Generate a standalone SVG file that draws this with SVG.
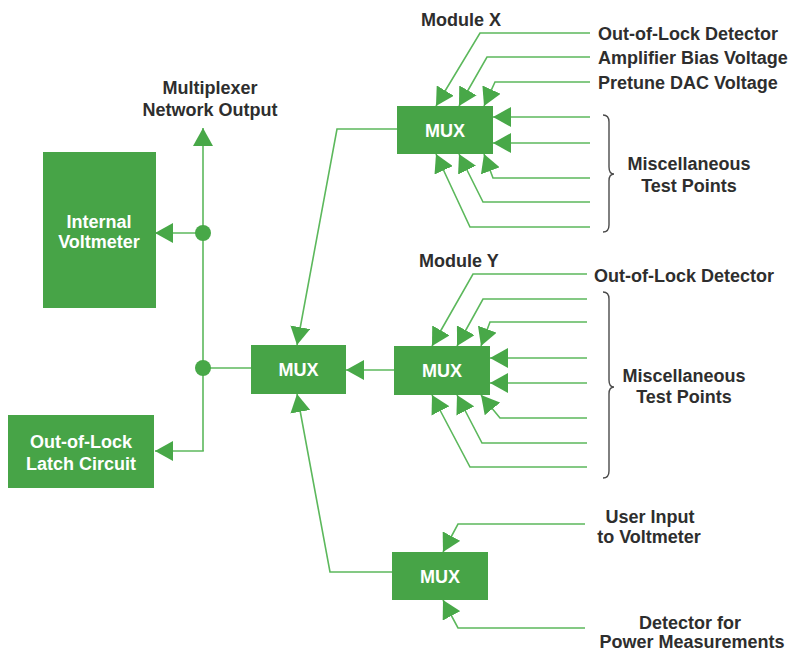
<svg xmlns="http://www.w3.org/2000/svg" width="798" height="652" viewBox="0 0 798 652">
<style>
.box{fill:#47a447}
.bt{fill:#ffffff;font-family:"Liberation Sans",Arial,sans-serif;font-weight:bold;font-size:18px;text-anchor:middle}
.lb{fill:#2e2e2e;font-family:"Liberation Sans",Arial,sans-serif;font-weight:bold;font-size:18px}
.c{text-anchor:middle}
.ln{fill:none;stroke:#5cb85c;stroke-width:1.6;marker-end:url(#ah)}
.pl{fill:none;stroke:#5cb85c;stroke-width:1.6}
.br{fill:none;stroke:#4a4a4a;stroke-width:1.4}
</style>
<defs>
<marker id="ah" viewBox="0 0 18 20" markerWidth="18" markerHeight="20" refX="18" refY="10" orient="auto" markerUnits="userSpaceOnUse">
<path d="M0,0 L18,10 L0,20 z" fill="#48a848"/>
</marker>
</defs>
<rect width="798" height="652" fill="#ffffff"/>

<g id="connectors">
<polyline class="ln" points="397,129 337,129 297,345"/>
<line class="ln" x1="394" y1="370" x2="346" y2="370"/>
<polyline class="ln" points="392,572 330,572 297,394"/>
<line class="pl" x1="251" y1="368" x2="203" y2="368"/>
<line class="ln" x1="203" y1="451" x2="203" y2="128"/>
<line class="ln" x1="203" y1="233" x2="155" y2="233"/>
<line class="ln" x1="203.8" y1="451" x2="155" y2="451"/>
<circle cx="203" cy="233" r="8" fill="#48a848"/>
<circle cx="203" cy="368" r="8" fill="#48a848"/>

<polyline class="ln" points="590,33 480,33 436,106"/>
<polyline class="ln" points="590,57 487,57 459,106"/>
<polyline class="ln" points="590,82 495,82 484,106"/>
<polyline class="ln" points="590,117 493,117"/>
<polyline class="ln" points="590,143 493,143"/>
<polyline class="ln" points="590,178 493,178 484,154"/>
<polyline class="ln" points="590,202 483,202 459,154"/>
<polyline class="ln" points="590,227 470,227 436,154"/>

<polyline class="ln" points="587,274 473,274 432,346"/>
<polyline class="ln" points="587,299 483,299 457,346"/>
<polyline class="ln" points="587,322 490,322 481,346"/>
<polyline class="ln" points="587,358 490,358"/>
<polyline class="ln" points="587,383 490,383"/>
<polyline class="ln" points="587,418 500,418 481,395"/>
<polyline class="ln" points="587,443 482,443 457,395"/>
<polyline class="ln" points="587,467 470,467 432,395"/>

<polyline class="ln" points="585,524 458,524 443,552"/>
<polyline class="ln" points="585,628 458,628 443,600"/>
</g>

<g id="voltmeter">
<rect class="box" x="43" y="152" width="113" height="156"/>
<text class="bt" x="99" y="228">Internal</text>
<text class="bt" x="99" y="248">Voltmeter</text>
</g>
<g id="latch">
<rect class="box" x="8" y="415" width="146" height="73"/>
<text class="bt" x="81" y="448">Out-of-Lock</text>
<text class="bt" x="81" y="470">Latch Circuit</text>
</g>
<g id="mux-center">
<rect class="box" x="251" y="345" width="95" height="49"/>
<text class="bt" x="298.5" y="376">MUX</text>
</g>
<g id="mux-x">
<rect class="box" x="397" y="106" width="96" height="48"/>
<text class="bt" x="445" y="137">MUX</text>
</g>
<g id="mux-y">
<rect class="box" x="394" y="346" width="96" height="49"/>
<text class="bt" x="442" y="377">MUX</text>
</g>
<g id="mux-bottom">
<rect class="box" x="392" y="552" width="96" height="48"/>
<text class="bt" x="440" y="583">MUX</text>
</g>

<g id="labels">
<text class="lb c" x="210" y="94">Multiplexer</text>
<text class="lb c" x="210" y="116">Network Output</text>
<text class="lb" x="421" y="26">Module X</text>
<text class="lb" x="598" y="40">Out-of-Lock Detector</text>
<text class="lb" x="598" y="64">Amplifier Bias Voltage</text>
<text class="lb" x="598" y="89">Pretune DAC Voltage</text>
<text class="lb c" x="689" y="170">Miscellaneous</text>
<text class="lb c" x="689" y="192">Test Points</text>
<text class="lb" x="419" y="267">Module Y</text>
<text class="lb" x="594" y="282">Out-of-Lock Detector</text>
<text class="lb c" x="684" y="382">Miscellaneous</text>
<text class="lb c" x="684" y="403">Test Points</text>
<text class="lb c" x="650" y="523">User Input</text>
<text class="lb c" x="649" y="543">to Voltmeter</text>
<text class="lb c" x="690" y="629">Detector for</text>
<text class="lb c" x="692" y="648">Power Measurements</text>
</g>

<g id="braces">
<path class="br" d="M603,115 Q609,115 609,122 L609,167 Q609,174 614,174 Q609,174 609,181 L609,225 Q609,232 603,232"/>
<path class="br" d="M603,292 Q609,292 609,299 L609,380 Q609,387 614,387 Q609,387 609,394 L609,471 Q609,478 603,478"/>
</g>
</svg>
